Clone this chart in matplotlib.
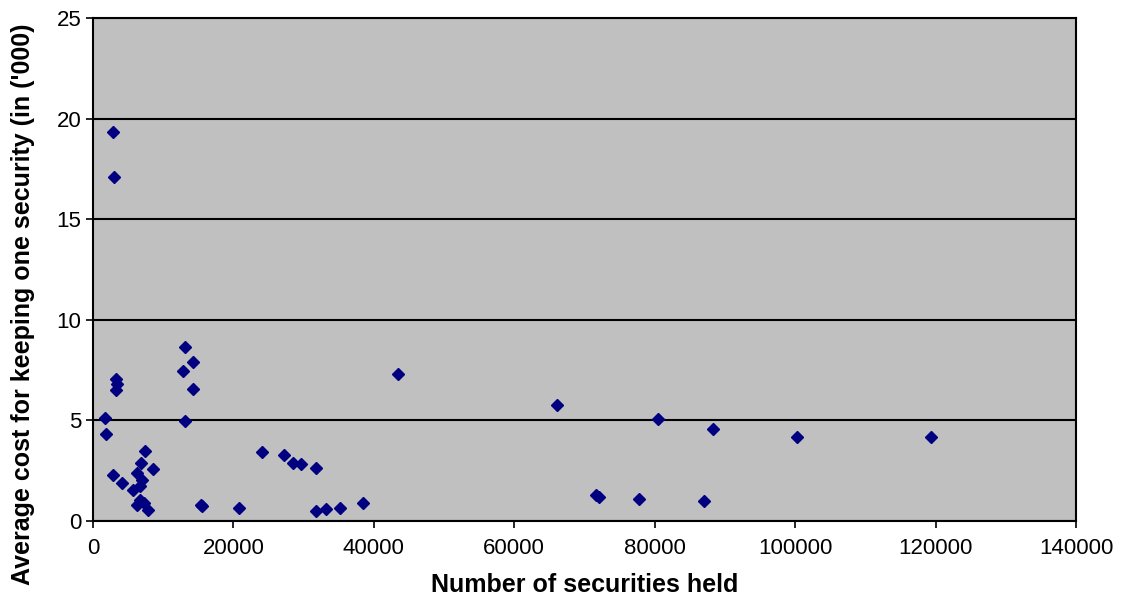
import matplotlib
matplotlib.use('Agg')
import matplotlib.pyplot as plt

# Number of securities held vs average cost per security
securities = [2850, 2990, 13100, 14240, 12800, 14240, 13100,
              3280, 3350, 3280, 1710, 1850,
              7400, 6800, 8550, 2850, 4130, 6270, 6980, 6700, 5700,
              6700, 7260, 7830, 6270, 15380,
              15520, 20800, 24070, 27200, 28480, 29620, 31760,
              31760, 33190, 35180, 38450, 43450,
              66080, 80460, 88300, 100240, 119330,
              71700, 72000, 77740, 87000]
avg_cost = [19.35, 17.1, 8.65, 7.9, 7.45, 6.55, 4.97,
            7.05, 6.8, 6.5, 5.1, 4.3,
            3.5, 2.9, 2.6, 2.3, 1.9, 2.4, 2.05, 1.75, 1.55,
            1.05, 0.9, 0.55, 0.8, 0.8,
            0.75, 0.65, 3.45, 3.3, 2.9, 2.85, 2.65,
            0.5, 0.6, 0.65, 0.9, 7.3,
            5.77, 5.07, 4.58, 4.18, 4.18,
            1.3, 1.2, 1.1, 1.0]

plt.rcParams['font.family'] = ['Liberation Sans', 'DejaVu Sans']

fig = plt.figure(figsize=(11.27, 6.03), dpi=100)
ax = fig.add_axes([0.0825, 0.136, 0.8723, 0.834])
ax.set_facecolor('#c0c0c0')

ax.plot(securities, avg_cost, linestyle='none', marker='D', markersize=6.5,
        color='#000080', zorder=3)

ax.set_xlim(0, 140000)
ax.set_ylim(0, 25)
ax.set_xticks(range(0, 140001, 20000))
ax.set_yticks(range(0, 26, 5))
ax.yaxis.grid(True, color='black', linewidth=1.5)
ax.set_axisbelow(True)

for s in ax.spines.values():
    s.set_linewidth(1.5)
    s.set_color('black')
ax.tick_params(direction='out', length=5, width=1.2, labelsize=16)
ax.tick_params(axis='x', pad=7)

ax.set_xlabel('Number of securities held', fontsize=18, fontweight='bold')
ax.xaxis.set_label_coords(0.5, -0.103)
ax.set_ylabel("Average cost for keeping one security (in ('000)", fontsize=18,
              fontweight='bold')
ax.yaxis.set_label_coords(-0.059, 0.43)

fig.savefig('out.png', dpi=100)
